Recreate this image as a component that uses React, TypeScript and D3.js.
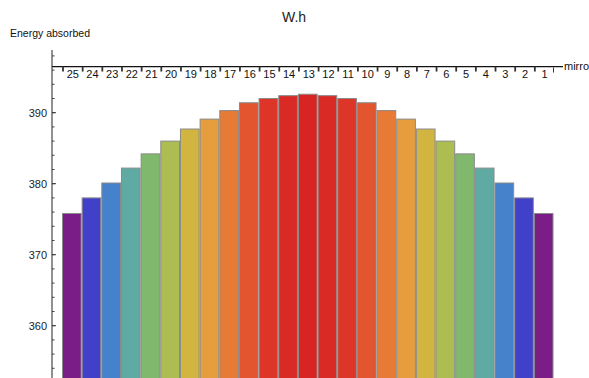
import React from "react";
import * as d3 from "d3";

const categories = ["25","24","23","22","21","20","19","18","17","16","15","14","13","12","11","10","9","8","7","6","5","4","3","2","1"];
const values = [375.8,378.0,380.1,382.2,384.2,386.0,387.7,389.1,390.3,391.4,392.0,392.4,392.6,392.4,392.0,391.4,390.3,389.1,387.7,386.0,384.2,382.2,380.1,378.0,375.8];
const colors = ["#7A1D87","#4040C8","#4682CC","#5FAAA2","#80B86E","#ADBD52","#D2B540","#E59D3D","#E77A35","#E2552E","#DD3628","#DA2A26","#D92424","#DA2A26","#DD3628","#E2552E","#E77A35","#E59D3D","#D2B540","#ADBD52","#80B86E","#5FAAA2","#4682CC","#4040C8","#7A1D87"];
const yTicks = [360, 370, 380, 390];
const yMinor = d3.range(354, 400, 2);

const W = 589, H = 378;
const font = "Liberation Sans, Arial, Helvetica, sans-serif";

export default function App() {
  const x = d3.scaleBand<string>().domain(categories).range([62, 553.5]).paddingInner(0).paddingOuter(0);
  const y = d3.scaleLinear().domain([360, 390]).range([325.7, 112.7]);
  const axisX = 52;
  const axisY = y(396.5);
  const bw = x.bandwidth();
  return (
    <svg width={W} height={H} style={{ position: "absolute", left: 0, top: 0, background: "#fff" }}>
      <text x={294} y={22} fontFamily={font} fontSize={14} textAnchor="middle" fill="#222">W.h</text>
      <text x={10} y={37} fontFamily={font} fontSize={10.5} fill="#111">Energy absorbed</text>
      {values.map((v, i) => (
        <rect key={i} x={x(categories[i])! + 0.5} y={y(v)} width={bw - 1} height={y(340) - y(v)}
          fill={colors[i]} stroke="#8a8a8a" strokeWidth={1} />
      ))}
      {/* y axis */}
      <line x1={axisX} x2={axisX} y1={50} y2={H} stroke="#222" strokeWidth={1} />
      {yMinor.map((t) => (
        <line key={"m" + t} x1={axisX} x2={axisX + 2.5} y1={y(t)} y2={y(t)} stroke="#444" strokeWidth={1} />
      ))}
      {yTicks.map((t) => (
        <g key={t}>
          <line x1={axisX} x2={axisX + 4} y1={y(t)} y2={y(t)} stroke="#333" strokeWidth={1} />
          <text x={47} y={y(t) + 4} fontFamily={font} fontSize={11} textAnchor="end" fill="#222">{t}</text>
        </g>
      ))}
      {/* x axis */}
      <line x1={axisX} x2={563} y1={axisY} y2={axisY} stroke="#111" strokeWidth={1.2} />
      {categories.map((c) => (
        <g key={c}>
          <line x1={x(c)! + 1} x2={x(c)! + 1} y1={axisY} y2={axisY + 5} stroke="#333" strokeWidth={1.8} />
          <text x={x(c)! + bw / 2 + 1} y={axisY + 11.5} fontFamily={font} fontSize={11} textAnchor="middle" fill="#111">{c}</text>
        </g>
      ))}
      <line x1={553.5} x2={553.5} y1={axisY + 1} y2={axisY + 6} stroke="#333" strokeWidth={1} />
      <text x={564} y={axisY + 3.5} fontFamily={font} fontSize={11} fill="#111">mirro</text>
    </svg>
  );
}
